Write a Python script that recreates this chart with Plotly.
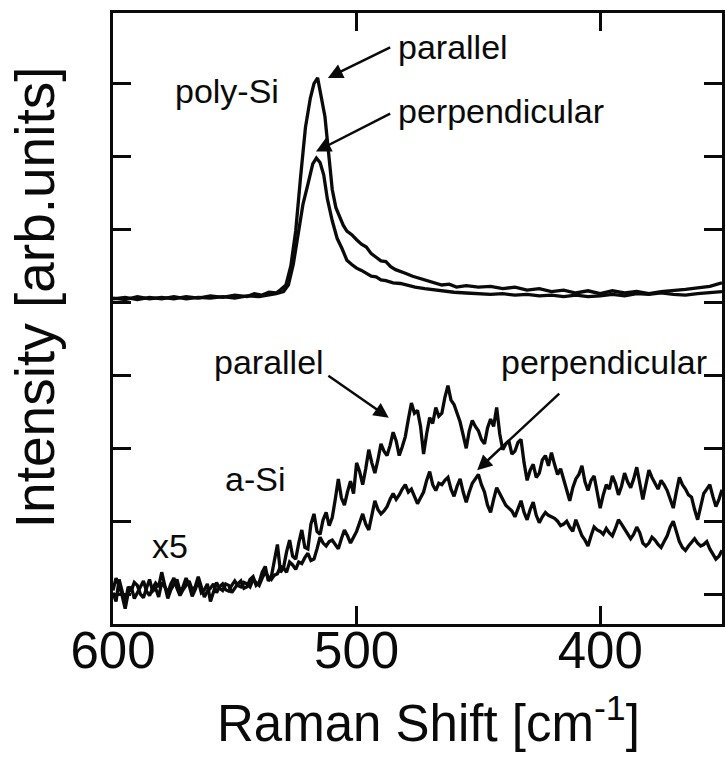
import plotly.graph_objects as go

# ---- poly-Si spectra (offset baseline ~4) ----
poly_par_shift = [600, 595, 590, 585, 580, 575, 570, 565, 560, 555, 550, 545, 542, 539, 536, 533,
                  531, 529, 527, 525, 523, 521, 519, 517.5, 516, 514.5, 513, 511.5, 510, 508.5, 507,
                  505.5, 504, 502, 500, 498, 496, 494, 492, 490, 488, 486, 484, 482, 480, 477, 474,
                  471, 468, 465, 462, 459, 455, 450, 445, 440, 435, 430, 425, 420, 415, 410, 405,
                  400, 395, 390, 385, 380, 375, 370, 365, 360, 355, 350]
poly_par_int = [4.06, 4.04, 4.08, 4.05, 4.07, 4.05, 4.08, 4.06, 4.09, 4.07, 4.10, 4.08, 4.12, 4.10,
                4.14, 4.13, 4.18, 4.24, 4.50, 4.98, 5.72, 6.40, 6.80, 7.00, 7.08, 6.80, 6.55, 6.05,
                5.55, 5.30, 5.17, 5.06, 4.98, 4.93, 4.86, 4.80, 4.76, 4.67, 4.62, 4.57, 4.56, 4.49,
                4.45, 4.42, 4.40, 4.36, 4.33, 4.29, 4.27, 4.24, 4.25, 4.21, 4.23, 4.21, 4.22, 4.19,
                4.21, 4.17, 4.19, 4.15, 4.17, 4.13, 4.16, 4.12, 4.16, 4.13, 4.15, 4.12, 4.15, 4.16,
                4.18, 4.20, 4.22, 4.27]

poly_perp_shift = [600, 595, 590, 585, 580, 575, 570, 565, 560, 555, 550, 545, 540, 536, 533, 530,
                   528, 526, 524, 522, 520, 518, 516.5, 515, 513.5, 512, 510, 508, 506, 504, 502,
                   500, 498, 496, 494, 492, 490, 488, 485, 482, 479, 476, 472, 468, 464, 460, 455,
                   450, 445, 440, 435, 430, 425, 420, 415, 410, 405, 400, 395, 390, 385, 380, 375,
                   370, 365, 360, 355, 350]
poly_perp_int = [4.05, 4.07, 4.04, 4.07, 4.05, 4.08, 4.05, 4.07, 4.06, 4.08, 4.06, 4.09, 4.08, 4.10,
                 4.12, 4.15, 4.24, 4.52, 4.95, 5.35, 5.62, 5.90, 5.98, 5.92, 5.75, 5.42, 5.12, 4.88,
                 4.74, 4.58, 4.52, 4.47, 4.44, 4.40, 4.36, 4.35, 4.31, 4.30, 4.27, 4.26, 4.23, 4.21,
                 4.19, 4.17, 4.15, 4.14, 4.13, 4.12, 4.11, 4.12, 4.10, 4.11, 4.09, 4.10, 4.08, 4.10,
                 4.08, 4.09, 4.11, 4.09, 4.12, 4.11, 4.13, 4.11, 4.10, 4.12, 4.13, 4.15]

# ---- a-Si spectra (x5), sampled every 1.25 cm-1 ----
asi_shift = [
    600, 598.75, 597.5, 596.25, 595, 593.75, 592.5, 591.25,
    590, 588.75, 587.5, 586.25, 585, 583.75, 582.5, 581.25,
    580, 578.75, 577.5, 576.25, 575, 573.75, 572.5, 571.25,
    570, 568.75, 567.5, 566.25, 565, 563.75, 562.5, 561.25,
    560, 558.75, 557.5, 556.25, 555, 553.75, 552.5, 551.25,
    550, 548.75, 547.5, 546.25, 545, 543.75, 542.5, 541.25,
    540, 538.75, 537.5, 536.25, 535, 533.75, 532.5, 531.25,
    530, 528.75, 527.5, 526.25, 525, 523.75, 522.5, 521.25,
    520, 518.75, 517.5, 516.25, 515, 513.75, 512.5, 511.25,
    510, 508.75, 507.5, 506.25, 505, 503.75, 502.5, 501.25,
    500, 498.75, 497.5, 496.25, 495, 493.75, 492.5, 491.25,
    490, 488.75, 487.5, 486.25, 485, 483.75, 482.5, 481.25,
    480, 478.75, 477.5, 476.25, 475, 473.75, 472.5, 471.25,
    470, 468.75, 467.5, 466.25, 465, 463.75, 462.5, 461.25,
    460, 458.75, 457.5, 456.25, 455, 453.75, 452.5, 451.25,
    450, 448.75, 447.5, 446.25, 445, 443.75, 442.5, 441.25,
    440, 438.75, 437.5, 436.25, 435, 433.75, 432.5, 431.25,
    430, 428.75, 427.5, 426.25, 425, 423.75, 422.5, 421.25,
    420, 418.75, 417.5, 416.25, 415, 413.75, 412.5, 411.25,
    410, 408.75, 407.5, 406.25, 405, 403.75, 402.5, 401.25,
    400, 398.75, 397.5, 396.25, 395, 393.75, 392.5, 391.25,
    390, 388.75, 387.5, 386.25, 385, 383.75, 382.5, 381.25,
    380, 378.75, 377.5, 376.25, 375, 373.75, 372.5, 371.25,
    370, 368.75, 367.5, 366.25, 365, 363.75, 362.5, 361.25,
    360, 358.75, 357.5, 356.25, 355, 353.75, 352.5, 351.25,
    350]
asi_par_int = [
    0.05, 0.22, 0.12, -0.02, -0.20, 0.02, 0.10, -0.06,
    0.02, 0.10, 0.18, 0.04, -0.02, 0.08, 0.15, 0.10,
    0.30, 0.12, -0.06, 0.06, 0.14, 0.20, 0.04, 0.10,
    0.22, 0.12, -0.03, 0.06, 0.18, 0.02, 0.06, 0.14,
    -0.10, 0.04, 0.16, 0.08, 0.05, 0.14, 0.12, 0.02,
    0.08, 0.14, 0.18, 0.08, 0.10, 0.20, 0.24, 0.12,
    0.16, 0.30, 0.38, 0.18, 0.24, 0.44, 0.68, 0.30,
    0.36, 0.58, 0.74, 0.52, 0.48, 0.70, 0.88, 0.64,
    0.62, 0.96, 1.10, 0.86, 0.82, 1.02, 1.12, 0.94,
    1.05, 1.30, 1.58, 1.32, 1.22, 1.40, 1.55, 1.38,
    1.80, 1.68, 1.50, 1.72, 1.98, 1.80, 1.66, 1.84,
    2.06, 1.96, 1.90, 2.04, 2.22, 2.10, 1.90, 2.02,
    2.16, 2.40, 2.62, 2.48, 2.52, 2.30, 1.92, 2.20,
    2.42, 2.34, 2.56, 2.44, 2.48, 2.70, 2.86, 2.66,
    2.60, 2.48, 2.36, 2.18, 2.00, 2.24, 2.38, 2.30,
    2.24, 2.12, 2.06, 2.28, 2.40, 2.30, 2.56, 2.20,
    1.98, 2.06, 2.10, 1.92, 1.96, 2.08, 2.12, 1.80,
    1.56, 1.70, 1.78, 1.60, 1.66, 1.84, 1.90, 1.76,
    1.94, 1.78, 1.64, 1.72, 1.56, 1.42, 1.28, 1.46,
    1.58, 1.64, 1.76, 1.54, 1.42, 1.56, 1.62, 1.40,
    1.18, 1.36, 1.50, 1.44, 1.62, 1.52, 1.36, 1.48,
    1.66, 1.54, 1.46, 1.58, 1.74, 1.52, 1.30, 1.50,
    1.70, 1.60, 1.52, 1.44, 1.56, 1.50, 1.42, 1.30,
    1.18, 1.40, 1.60, 1.50, 1.44, 1.36, 1.33, 1.16,
    1.02, 1.20, 1.38, 1.44, 1.50, 1.34, 1.20, 1.30,
    1.43]
asi_perp_int = [
    0.02, -0.10, 0.20, 0.06, -0.12, 0.10, 0.05, 0.16,
    0.12, 0.00, -0.05, 0.08, 0.20, 0.04, 0.08, -0.04,
    0.16, 0.10, 0.02, 0.14, 0.22, 0.08, -0.02, 0.06,
    0.12, 0.18, 0.06, 0.10, 0.24, 0.08, -0.04, 0.04,
    0.08, 0.14, 0.02, 0.10, 0.14, 0.06, 0.04, 0.12,
    0.18, 0.12, 0.10, 0.16, 0.14, 0.10, 0.20, 0.16,
    0.12, 0.22, 0.30, 0.24, 0.20, 0.26, 0.28, 0.38,
    0.36, 0.30, 0.44, 0.40, 0.34, 0.44, 0.42, 0.50,
    0.56, 0.46, 0.48, 0.62, 0.78, 0.70, 0.66, 0.72,
    0.74, 0.68, 0.62, 0.76, 0.88, 0.80, 0.70, 0.78,
    0.86, 0.98, 1.10, 0.96, 0.88, 1.08, 1.28, 1.16,
    1.10, 1.14, 1.20, 1.30, 1.38, 1.30, 1.36, 1.44,
    1.50, 1.40, 1.44, 1.34, 1.24, 1.32, 1.40, 1.56,
    1.68, 1.50, 1.42, 1.52, 1.50, 1.56, 1.60, 1.44,
    1.34, 1.48, 1.58, 1.40, 1.26, 1.40, 1.52, 1.58,
    1.64, 1.50, 1.40, 1.22, 1.12, 1.30, 1.46, 1.38,
    1.30, 1.22, 1.18, 1.14, 1.06, 1.18, 1.28, 1.12,
    1.02, 1.16, 1.26, 1.08, 0.98, 1.06, 1.12, 1.08,
    1.06, 1.04, 1.00, 0.94, 0.96, 1.00, 0.92, 0.86,
    1.02, 0.92, 0.80, 0.74, 0.66, 0.80, 0.92, 0.88,
    0.86, 0.82, 0.90, 0.84, 0.80, 0.90, 1.02, 0.96,
    0.90, 0.84, 0.76, 0.82, 0.92, 0.84, 0.70, 0.66,
    0.70, 0.78, 0.74, 0.68, 0.64, 0.72, 0.80, 0.92,
    1.00, 0.86, 0.72, 0.64, 0.60, 0.66, 0.72, 0.76,
    0.70, 0.66, 0.68, 0.72, 0.62, 0.54, 0.48, 0.52,
    0.60]

assert len(poly_par_shift) == len(poly_par_int)
assert len(poly_perp_shift) == len(poly_perp_int)
assert len(asi_shift) == len(asi_par_int) == len(asi_perp_int)

x_ticks = [600, 500, 400]
y_ticks = [0, 1, 2, 3, 4, 5, 6, 7]

FONT = "Liberation Sans, Arial, Helvetica, sans-serif"
INK = "#0a0a0a"
line = dict(color=INK, width=3.3)

fig = go.Figure()
for xs, ys in [(poly_par_shift, poly_par_int), (poly_perp_shift, poly_perp_int),
               (asi_shift, asi_par_int), (asi_shift, asi_perp_int)]:
    fig.add_trace(go.Scatter(x=xs, y=ys, mode="lines", line=line, showlegend=False,
                             hoverinfo="skip"))

# text labels (left-anchored, vertically centred)
labels = [
    ("poly-Si", 575.3, 6.90),
    ("parallel", 484.0, 7.51),
    ("perpendicular", 484.0, 6.62),
    ("parallel", 559.2, 3.19),
    ("perpendicular", 441.7, 3.19),
    ("a-Si", 554.7, 1.585),
    ("x5", 584.9, 0.666),
]
for txt, xv, yv in labels:
    fig.add_annotation(x=xv, y=yv, text=txt, showarrow=False, xanchor="left",
                       yanchor="middle", font=dict(family=FONT, size=34, color=INK))

# pointer arrows: (head x, head y, tail x, tail y)
arrows = [
    (511.8, 7.08, 485.6, 7.51),
    (516.7, 6.07, 485.6, 6.60),
    (486.8, 2.42, 512.2, 3.01),
    (450.5, 1.70, 416.2, 2.77),
]
for hx, hy, tx, ty in arrows:
    fig.add_annotation(x=hx, y=hy, ax=tx, ay=ty, axref="x", ayref="y", text="",
                       showarrow=True, arrowhead=2, arrowsize=1.2, arrowwidth=2.5,
                       arrowcolor=INK)

# axis titles
fig.add_annotation(xref="paper", yref="paper", x=0.518, y=-0.157, showarrow=False,
                   xanchor="center", yanchor="middle",
                   text="Raman Shift [cm<sup>-1</sup>]",
                   font=dict(family=FONT, size=51, color=INK))
fig.add_annotation(xref="paper", yref="paper", x=-0.128, y=0.535, showarrow=False,
                   xanchor="center", yanchor="middle", textangle=-90,
                   text="Intensity [arb.units]",
                   font=dict(family=FONT, size=55, color=INK))

fig.update_layout(
    width=725, height=764, autosize=False,
    margin=dict(l=113, r=0, t=13, b=140, pad=0),
    paper_bgcolor="white", plot_bgcolor="white",
    font=dict(family=FONT, color=INK),
    xaxis=dict(range=[600, 350], tickvals=x_ticks, ticktext=[str(v) for v in x_ticks],
               ticks="inside", ticklen=18, tickwidth=2.5, tickcolor=INK,
               showline=True, linewidth=3, linecolor=INK, mirror="ticks",
               showgrid=False, zeroline=False, ticklabelstandoff=-20,
               tickfont=dict(family=FONT, size=51, color=INK)),
    yaxis=dict(range=[-0.41, 7.97], tickvals=y_ticks, showticklabels=False,
               ticks="inside", ticklen=18, tickwidth=2.5, tickcolor=INK,
               showline=True, linewidth=3, linecolor=INK, mirror="ticks",
               showgrid=False, zeroline=False),
)

fig.write_html("out.html")
